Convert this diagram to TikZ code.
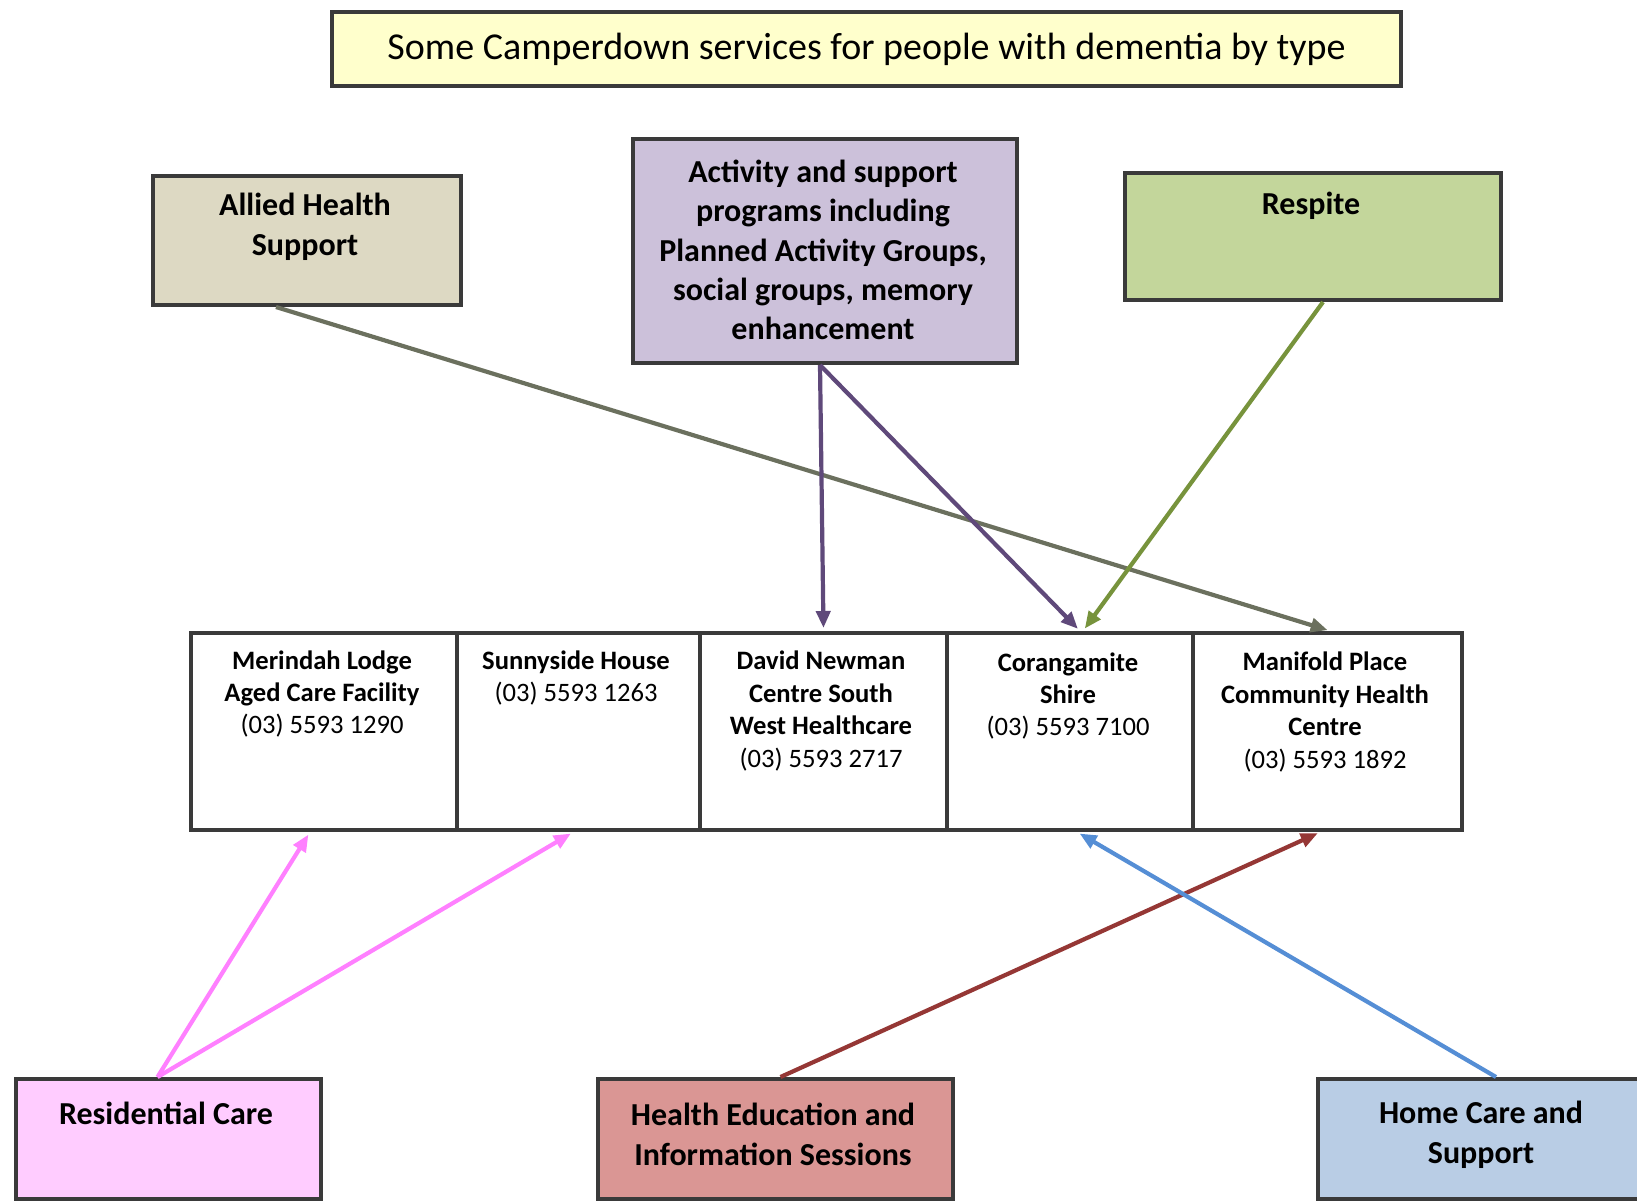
\documentclass[tikz,border=0pt]{standalone}
\usepackage{fontspec}
\setmainfont{Carlito}
\usetikzlibrary{arrows.meta}
\definecolor{boxline}{HTML}{3A3A3A}
\definecolor{titlefill}{HTML}{FFFFCC}
\definecolor{alliedfill}{HTML}{DDD9C3}
\definecolor{activityfill}{HTML}{CCC1DA}
\definecolor{respitefill}{HTML}{C3D69B}
\definecolor{resfill}{HTML}{FFCCFF}
\definecolor{edfill}{HTML}{DA9694}
\definecolor{homefill}{HTML}{B9CDE5}
\definecolor{alliedline}{HTML}{6B705E}
\definecolor{activityline}{HTML}{5F497A}
\definecolor{respiteline}{HTML}{77933C}
\definecolor{resline}{HTML}{FF80FF}
\definecolor{edline}{HTML}{953735}
\definecolor{homeline}{HTML}{558ED5}
\begin{document}
\begin{tikzpicture}[x=0.5pt,y=-0.5pt,
  box/.style={draw=boxline, line width=2pt, anchor=north west, inner sep=0pt},
  bigtxt/.style={align=center, font=\bfseries\fontsize{16}{20}\selectfont},
  smalltxt/.style={align=center, font=\bfseries\fontsize{13.3}{16.2}\selectfont},
  conn/.style={line width=2.1pt, -{Triangle[length=8.5pt,width=7pt]}, shorten >=1.5pt}]
\useasboundingbox (0,0) rectangle (1637,1200);
% title
\node[box, fill=titlefill, minimum width=534.5pt, minimum height=37pt] (title) at (330,10) {};
\node[font=\fontsize{19}{22}\selectfont] (titleT) at (title.center) {Some Camperdown services for people with dementia by type};
% top category boxes
\node[box, fill=alliedfill, minimum width=154pt, minimum height=64.5pt] (allied) at (151,174) {};
\node[bigtxt] (alliedT) at (305,227) {Allied Health\\Support};
\node[box, fill=activityfill, minimum width=192pt, minimum height=112pt] (activity) at (631,137) {};
\node[bigtxt, font=\bfseries\fontsize{16}{19.6}\selectfont] (activityT) at (823,250) {Activity and support\\programs including\\Planned Activity Groups,\\social groups, memory\\enhancement};
\node[box, fill=respitefill, minimum width=188pt, minimum height=63.5pt] (respite) at (1123,171) {};
\node[bigtxt] (respiteT) at (1311,206) {Respite};
% service row
\node[box, fill=white, minimum width=133pt, minimum height=98.5pt] (merindah) at (189,631) {};
\node[box, fill=white, minimum width=121.5pt, minimum height=98.5pt] (sunny) at (455,631) {};
\node[box, fill=white, minimum width=123.5pt, minimum height=98.5pt] (david) at (698,631) {};
\node[box, fill=white, minimum width=123pt, minimum height=98.5pt] (coran) at (945,631) {};
\node[box, fill=white, minimum width=134.5pt, minimum height=98.5pt] (manifold) at (1191,631) {};
\node[smalltxt] (merindahT) at (322,694) {Merindah Lodge\\Aged Care Facility\\\mdseries(03) 5593 1290};
\node[smalltxt] (sunnyT) at (576,678) {Sunnyside House\\\mdseries(03) 5593 1263};
\node[smalltxt] (davidT) at (821,711) {David Newman\\Centre South\\West Healthcare\\\mdseries(03) 5593 2717};
\node[smalltxt] (coranT) at (1068,696) {Corangamite\\Shire\\\mdseries(03) 5593 7100};
\node[smalltxt] (manifoldT) at (1325,712) {Manifold Place\\Community Health\\Centre\\\mdseries(03) 5593 1892};
% bottom category boxes
\node[box, fill=resfill, minimum width=152.5pt, minimum height=60pt] (res) at (14,1077) {};
\node[bigtxt] (resT) at (166,1113) {Residential Care};
\node[box, fill=edfill, minimum width=177.5pt, minimum height=60pt] (ed) at (596,1077) {};
\node[bigtxt] (edT) at (773,1134) {Health Education and\\Information Sessions};
\node[box, fill=homefill, minimum width=163pt, minimum height=60pt] (home) at (1316,1077) {};
\node[bigtxt] (homeT) at (1481,1135) {Home Care and\\Support};
% connectors
\draw[conn, draw=alliedline, fill=alliedline] ([xshift=-15.5pt]allied.south) -- ([xshift=1.5pt]manifold.north);
\draw[conn, draw=activityline, fill=activityline] ([xshift=-2.5pt]activity.south) -- (david.north);
\draw[conn, draw=activityline, fill=activityline] ([xshift=-2.5pt]activity.south) -- ([xshift=5pt]coran.north);
\draw[conn, draw=respiteline, fill=respiteline] ([xshift=5pt]respite.south) -- ([xshift=6.5pt]coran.north);
\draw[conn, draw=resline, fill=resline] ([xshift=-5.5pt]res.north) -- ([xshift=-7pt]merindah.south);
\draw[conn, draw=resline, fill=resline] ([xshift=-5.5pt]res.north) -- ([xshift=-2.5pt]sunny.south);
\draw[conn, draw=edline, fill=edline] ([xshift=2.5pt]ed.north) -- ([xshift=-3.5pt]manifold.south);
\draw[conn, draw=homeline, fill=homeline] ([xshift=7.5pt]home.north) -- ([xshift=3.5pt]coran.south);
\end{tikzpicture}
\end{document}
